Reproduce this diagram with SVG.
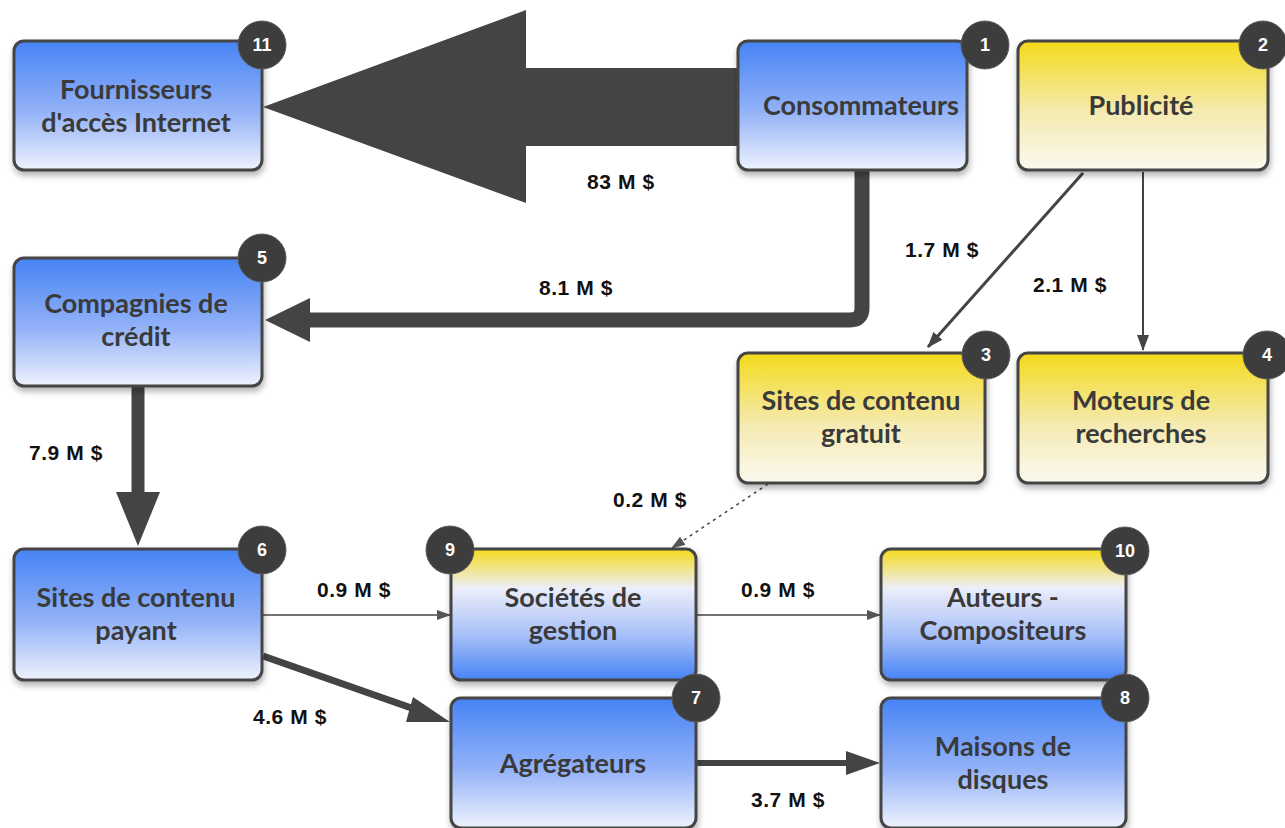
<svg xmlns="http://www.w3.org/2000/svg" width="1285" height="828" viewBox="0 0 1285 828">
<defs>
<linearGradient id="gBlue" x1="0" y1="0" x2="0" y2="1">
<stop offset="0" stop-color="#4683f5"/><stop offset="0.55" stop-color="#93b2f7"/><stop offset="1" stop-color="#eef2fd"/>
</linearGradient>
<linearGradient id="gYellow" x1="0" y1="0" x2="0" y2="1">
<stop offset="0" stop-color="#f4da1a"/><stop offset="0.55" stop-color="#f5eab0"/><stop offset="1" stop-color="#fbf9f0"/>
</linearGradient>
<linearGradient id="gMix" x1="0" y1="0" x2="0" y2="1">
<stop offset="0" stop-color="#f4da1a"/><stop offset="0.3" stop-color="#eceefa"/><stop offset="0.65" stop-color="#a9c1f8"/><stop offset="1" stop-color="#4683f5"/>
</linearGradient>
<filter id="sh" x="-10%" y="-10%" width="125%" height="130%">
<feDropShadow dx="1" dy="4" stdDeviation="3" flood-color="#000" flood-opacity="0.3"/>
</filter>
<marker id="ah" markerWidth="16" markerHeight="12" refX="15" refY="6" orient="auto" markerUnits="userSpaceOnUse">
<path d="M0,0 L16,6 L0,12 Z" fill="#444"/>
</marker>
<marker id="ahs" markerWidth="14" markerHeight="10" refX="13" refY="5" orient="auto" markerUnits="userSpaceOnUse">
<path d="M0,0 L14,5 L0,10 Z" fill="#555"/>
</marker>
<style>
.box{stroke:#444;stroke-width:3;filter:url(#sh)}
.lbl{font-family:Lato,"Open Sans",sans-serif;font-weight:700;font-size:27px;fill:#3a3a3a;text-anchor:middle}
.badge{fill:#3d3d3d;stroke:#5a5a5a;stroke-width:1}
.bt{font-family:"Liberation Sans",Arial,sans-serif;font-weight:700;font-size:18px;fill:#fff;text-anchor:middle}
.amt{font-family:"Liberation Sans",Arial,sans-serif;font-weight:700;font-size:21px;letter-spacing:0.6px;fill:#111;text-anchor:middle}
.con{fill:none;stroke:#444}
</style>
</defs>
<rect width="1285" height="828" fill="#fff"/>

<g id="connectors">
<polygon points="740,68 526,68 526,10 263,107 526,203 526,146 740,146" fill="#444"/>
<path d="M862,170 L862,308 Q862,320 850,320 L305,320" class="con" stroke-width="15"/>
<polygon points="310,298 265,320 310,342" fill="#444"/>
<line x1="138" y1="386" x2="138" y2="495" class="con" stroke-width="13"/>
<polygon points="116,492 160,492 138,546" fill="#444"/>
<line x1="1083" y1="173" x2="928" y2="347" class="con" stroke-width="3" marker-end="url(#ah)"/>
<line x1="1143" y1="172" x2="1143" y2="350" class="con" stroke-width="2" marker-end="url(#ah)"/>
<line x1="768" y1="484" x2="672" y2="548" class="con" stroke-width="1.5" stroke-dasharray="3,4" marker-end="url(#ahs)"/>
<line x1="263" y1="615" x2="450" y2="615" class="con" stroke-width="1.5" marker-end="url(#ahs)"/>
<line x1="697" y1="615" x2="880" y2="615" class="con" stroke-width="1.5" marker-end="url(#ahs)"/>
<line x1="263" y1="656" x2="420" y2="711" class="con" stroke-width="7"/>
<polygon points="413,697 450,722 406,722" fill="#444"/>
<line x1="697" y1="763" x2="848" y2="763" class="con" stroke-width="6"/>
<polygon points="846,751 880,763 846,775" fill="#444"/>
<text class="amt" x="621" y="189">83 M $</text>
<text class="amt" x="576" y="295">8.1 M $</text>
<text class="amt" x="66" y="460">7.9 M $</text>
<text class="amt" x="942" y="257">1.7 M $</text>
<text class="amt" x="1070" y="292">2.1 M $</text>
<text class="amt" x="650" y="507">0.2 M $</text>
<text class="amt" x="354" y="597">0.9 M $</text>
<text class="amt" x="778" y="597">0.9 M $</text>
<text class="amt" x="290" y="724">4.6 M $</text>
<text class="amt" x="788" y="807">3.7 M $</text>
</g>

<g id="n11">
<rect class="box" x="14" y="41" width="248" height="129" rx="10" fill="url(#gBlue)"/>
<text class="lbl" x="136" y="99">Fournisseurs</text>
<text class="lbl" x="136" y="132">d'accès Internet</text>
<circle class="badge" cx="262" cy="45" r="24"/><text class="bt" x="262" y="51">11</text>
</g>
<g id="n1">
<rect class="box" x="738" y="41" width="229" height="129" rx="10" fill="url(#gBlue)"/>
<text class="lbl" x="861" y="115">Consommateurs</text>
<circle class="badge" cx="985" cy="45" r="24"/><text class="bt" x="985" y="51">1</text>
</g>
<g id="n2">
<rect class="box" x="1018" y="41" width="250" height="129" rx="10" fill="url(#gYellow)"/>
<text class="lbl" x="1141" y="115">Publicité</text>
<circle class="badge" cx="1263" cy="45" r="24"/><text class="bt" x="1263" y="51">2</text>
</g>
<g id="n5">
<rect class="box" x="14" y="258" width="248" height="128" rx="10" fill="url(#gBlue)"/>
<text class="lbl" x="136" y="313">Compagnies de</text>
<text class="lbl" x="136" y="346">crédit</text>
<circle class="badge" cx="262" cy="258" r="24"/><text class="bt" x="262" y="264">5</text>
</g>
<g id="n3">
<rect class="box" x="738" y="353" width="247" height="130" rx="10" fill="url(#gYellow)"/>
<text class="lbl" x="861" y="410">Sites de contenu</text>
<text class="lbl" x="861" y="443">gratuit</text>
<circle class="badge" cx="986" cy="355" r="24"/><text class="bt" x="986" y="361">3</text>
</g>
<g id="n4">
<rect class="box" x="1018" y="353" width="250" height="130" rx="10" fill="url(#gYellow)"/>
<text class="lbl" x="1141" y="410">Moteurs de</text>
<text class="lbl" x="1141" y="443">recherches</text>
<circle class="badge" cx="1267" cy="355" r="24"/><text class="bt" x="1267" y="361">4</text>
</g>
<g id="n6">
<rect class="box" x="14" y="549" width="248" height="131" rx="10" fill="url(#gBlue)"/>
<text class="lbl" x="136" y="607">Sites de contenu</text>
<text class="lbl" x="136" y="640">payant</text>
<circle class="badge" cx="262" cy="550" r="24"/><text class="bt" x="262" y="556">6</text>
</g>
<g id="n9">
<rect class="box" x="451" y="549" width="245" height="131" rx="10" fill="url(#gMix)"/>
<text class="lbl" x="573" y="607">Sociétés de</text>
<text class="lbl" x="573" y="640">gestion</text>
<circle class="badge" cx="450" cy="550" r="24"/><text class="bt" x="450" y="556">9</text>
</g>
<g id="n10">
<rect class="box" x="881" y="549" width="245" height="131" rx="10" fill="url(#gMix)"/>
<text class="lbl" x="1003" y="607">Auteurs -</text>
<text class="lbl" x="1003" y="640">Compositeurs</text>
<circle class="badge" cx="1125" cy="551" r="24"/><text class="bt" x="1125" y="557">10</text>
</g>
<g id="n7">
<rect class="box" x="451" y="698" width="245" height="130" rx="10" fill="url(#gBlue)"/>
<text class="lbl" x="573" y="773">Agrégateurs</text>
<circle class="badge" cx="696" cy="698" r="24"/><text class="bt" x="696" y="704">7</text>
</g>
<g id="n8">
<rect class="box" x="881" y="698" width="245" height="130" rx="10" fill="url(#gBlue)"/>
<text class="lbl" x="1003" y="756">Maisons de</text>
<text class="lbl" x="1003" y="789">disques</text>
<circle class="badge" cx="1125" cy="698" r="24"/><text class="bt" x="1125" y="704">8</text>
</g>
</svg>
